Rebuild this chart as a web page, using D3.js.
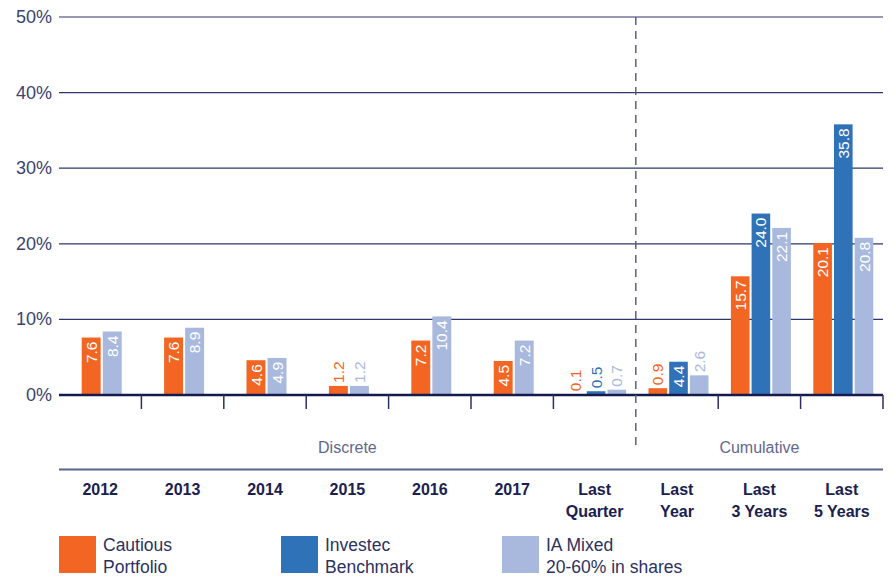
<!DOCTYPE html>
<html>
<head>
<meta charset="utf-8">
<script src="https://cdn.jsdelivr.net/npm/d3@7"></script>
<style>
  body { margin: 0; background: #fff; }
  svg text { font-family: "Liberation Sans", Arial, Helvetica, sans-serif; }
</style>
</head>
<body>
<svg id="chart" width="892" height="578"></svg>
<script>
// data
const categories = ["2012", "2013", "2014", "2015", "2016", "2017", "Last\nQuarter", "Last\nYear", "Last\n3 Years", "Last\n5 Years"];
const cautious = [7.6, 7.6, 4.6, 1.2, 7.2, 4.5, 0.1, 0.9, 15.7, 20.1];
const benchmark = [null, null, null, null, null, null, 0.5, 4.4, 24.0, 35.8];
const iaMixed = [8.4, 8.9, 4.9, 1.2, 10.4, 7.2, 0.7, 2.6, 22.1, 20.8];
const yTicks = [0, 10, 20, 30, 40, 50];
const groups = [{ name: "Discrete", from: 0, to: 6 }, { name: "Cumulative", from: 7, to: 9 }];

const series = [
  { key: "cautious", label: ["Cautious", "Portfolio"], color: "#f26522", values: cautious },
  { key: "benchmark", label: ["Investec", "Benchmark"], color: "#2f72b8", values: benchmark },
  { key: "ia", label: ["IA Mixed", "20-60% in shares"], color: "#a9b9de", values: iaMixed }
];

const svg = d3.select("#chart");
const plotLeft = 59, plotRight = 883, plotTop = 17, zeroY = 395;

const x = d3.scaleBand().domain(categories).range([plotLeft, plotRight]).padding(0);
const y = d3.scaleLinear().domain([0, 50]).range([zeroY, plotTop]);

// gridlines
svg.append("g")
  .selectAll("line")
  .data(yTicks.filter(d => d > 0))
  .join("line")
  .attr("x1", plotLeft).attr("x2", plotRight)
  .attr("y1", d => y(d)).attr("y2", d => y(d))
  .attr("stroke", "#2e376a").attr("stroke-width", 1.2);

// y labels
svg.append("g")
  .selectAll("text")
  .data(yTicks)
  .join("text")
  .attr("x", 52).attr("y", d => y(d) + 6)
  .attr("text-anchor", "end")
  .style("font-size", "18px")
  .style("fill", "#3a4270")
  .text(d => d + "%");

// bars
categories.forEach((cat, i) => {
  let present = series.filter(s => s.values[i] != null);
  let center = x(cat) + x.bandwidth() / 2;
  let inner = d3.scaleBand()
    .domain(present.map(s => s.key))
    .range([center - present.length * 10 + 1.5, center + present.length * 10 + 1.5])
    .paddingInner(0.1);

  present.forEach(s => {
    let v = s.values[i];
    let bx = inner(s.key), bw = inner.bandwidth();
    let h = zeroY - y(v);
    svg.append("rect")
      .attr("x", bx).attr("y", y(v))
      .attr("width", bw).attr("height", h)
      .style("fill", s.color);

    let inside = h > 28;
    let ty = inside ? y(v) + 4 : y(v) - 3;
    svg.append("text")
      .attr("transform", `translate(${bx + bw / 2}, ${ty}) rotate(-90)`)
      .attr("text-anchor", inside ? "end" : "start")
      .attr("dy", "0.36em")
      .style("font-size", "15.5px")
      .style("fill", inside ? "#fff" : s.color)
      .text(v.toFixed(1));
  });
});

// zero axis
svg.append("line")
  .attr("x1", plotLeft).attr("x2", plotRight)
  .attr("y1", zeroY).attr("y2", zeroY)
  .attr("stroke", "#141a4d").attr("stroke-width", 2.5);

// ticks between categories (boundary before "Last Year" is the dashed divider)
let tickXs = categories.slice(1).map(c => x(c)).concat([plotRight]);
svg.append("g")
  .selectAll("line")
  .data(tickXs.filter((d, i) => i !== 6))
  .join("line")
  .attr("x1", d => d).attr("x2", d => d)
  .attr("y1", zeroY).attr("y2", zeroY + 14)
  .attr("stroke", "#2a3160").attr("stroke-width", 1.5);

// dashed divider
let divX = x(categories[7]);
svg.append("line")
  .attr("x1", divX).attr("x2", divX)
  .attr("y1", plotTop).attr("y2", 451)
  .attr("stroke", "#5a6288").attr("stroke-width", 1.5)
  .attr("stroke-dasharray", "8,6");

// group labels
groups.forEach(g => {
  let x0 = x(categories[g.from]), x1 = x(categories[g.to]) + x.bandwidth();
  svg.append("text")
    .attr("x", (x0 + x1) / 2).attr("y", 453)
    .attr("text-anchor", "middle")
    .style("font-size", "16px")
    .style("fill", "#5f6890")
    .text(g.name);
});

svg.append("line")
  .attr("x1", plotLeft).attr("x2", plotRight)
  .attr("y1", 469.5).attr("y2", 469.5)
  .attr("stroke", "#5a6290").attr("stroke-width", 2);

// category labels
categories.forEach(cat => {
  let t = svg.append("text")
    .attr("x", x(cat) + x.bandwidth() / 2).attr("y", 495)
    .attr("text-anchor", "middle")
    .style("font-size", "16px")
    .style("font-weight", "bold")
    .style("fill", "#1a2050");
  cat.split("\n").forEach((line, j) => {
    t.append("tspan")
      .attr("x", x(cat) + x.bandwidth() / 2)
      .attr("dy", j === 0 ? 0 : 22)
      .text(line);
  });
});

// legend
const legendX = [59, 281, 502];
series.forEach((s, i) => {
  svg.append("rect")
    .attr("x", legendX[i]).attr("y", 536)
    .attr("width", 37).attr("height", 37)
    .style("fill", s.color);
  s.label.forEach((line, j) => {
    svg.append("text")
      .attr("x", legendX[i] + 44).attr("y", 551 + j * 22)
      .style("font-size", "17.5px")
      .style("fill", "#2b3260")
      .text(line);
  });
});
</script>
</body>
</html>
